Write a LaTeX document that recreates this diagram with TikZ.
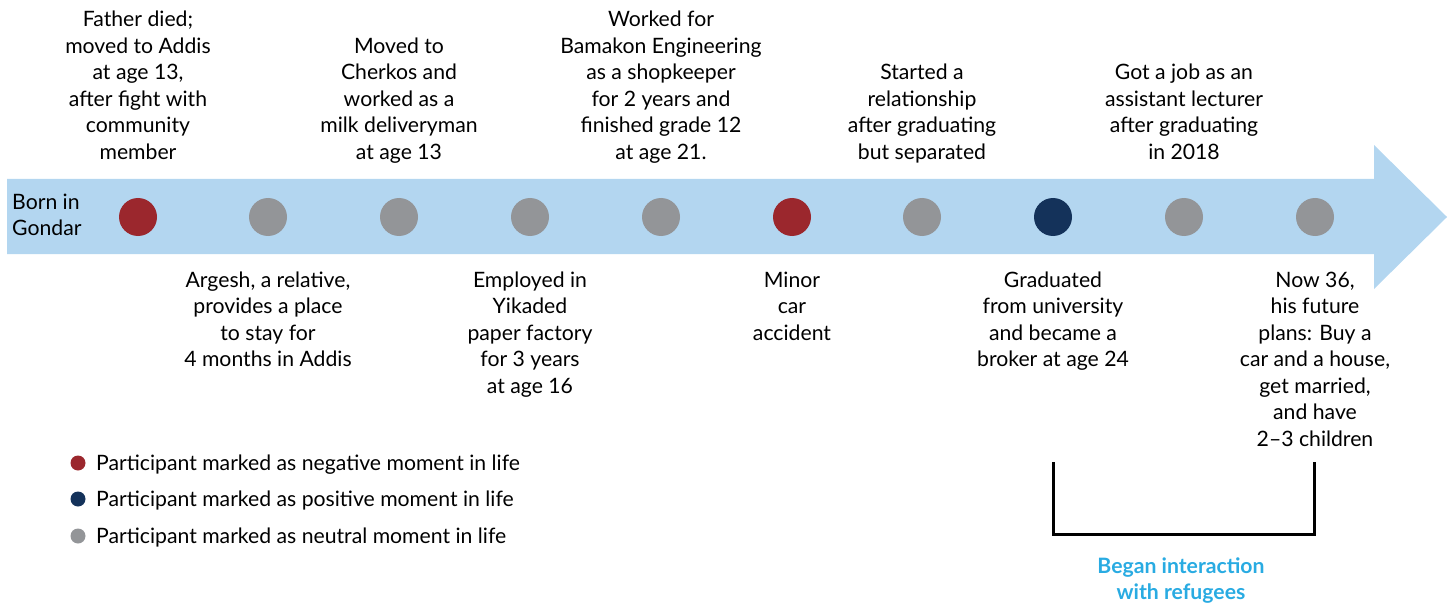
\documentclass[tikz,border=0pt]{standalone}
\usepackage{fontspec}
\setmainfont{Lato}
\definecolor{arrowblue}{HTML}{B3D6F0}
\definecolor{negred}{HTML}{9B272D}
\definecolor{neutgray}{HTML}{939598}
\definecolor{posnavy}{HTML}{14325A}
\definecolor{refblue}{HTML}{29ABE2}
\begin{document}
\begin{tikzpicture}[x=1pt,y=-1pt,
  font=\fontsize{21.2}{26.5}\selectfont,
  dot/.style={circle,inner sep=0pt,minimum size=38pt},
  ldot/.style={circle,inner sep=0pt,minimum size=15pt},
  toplab/.style={anchor=south,align=center,inner sep=0pt,text depth=0pt},
  botlab/.style={anchor=north,align=center,inner sep=0pt},
  legtext/.style={anchor=west,inner sep=0pt}]
\useasboundingbox (0,0) rectangle (1453,604);
\fill[arrowblue] (7,179) -- (1374,179) -- (1374,145) -- (1447,217) -- (1374,289) -- (1374,254) -- (7,254) -- cycle;
\node[anchor=north west,align=left,inner sep=0pt] (born) at (12,193.5) {Born in\\Gondar};
\node[dot,fill=negred] (d1) at (138,217) {};
\node[dot,fill=neutgray] (d2) at (268,217) {};
\node[dot,fill=neutgray] (d3) at (399,217) {};
\node[dot,fill=neutgray] (d4) at (530,217) {};
\node[dot,fill=neutgray] (d5) at (661,217) {};
\node[dot,fill=negred] (d6) at (792,217) {};
\node[dot,fill=neutgray] (d7) at (922,217) {};
\node[dot,fill=posnavy] (d8) at (1053,217) {};
\node[dot,fill=neutgray] (d9) at (1184,217) {};
\node[dot,fill=neutgray] (d10) at (1315,217) {};
\node[toplab] (t1) at (138,159.5) {Father died;\\moved to Addis\\at age 13,\\after fight with\\community\\member};
\node[toplab] (t3) at (399,159.5) {Moved to\\Cherkos and\\worked as a\\milk deliveryman\\at age 13};
\node[toplab] (t5) at (661,159.5) {Worked for\\Bamakon Engineering\\as a shopkeeper\\for 2 years and\\finished grade 12\\at age 21.};
\node[toplab] (t7) at (922,159.5) {Started a\\relationship\\after graduating\\but separated};
\node[toplab] (t9) at (1184,159.5) {Got a job as an\\assistant lecturer\\after graduating\\in 2018};
\node[botlab] (b2) at (268,271.5) {Argesh, a relative,\\provides a place\\to stay for\\4 months in Addis};
\node[botlab] (b4) at (530,271.5) {Employed in\\Yikaded\\paper factory\\for 3 years\\at age 16};
\node[botlab] (b6) at (792,271.5) {Minor\\car\\accident};
\node[botlab] (b8) at (1053,271.5) {Graduated\\from university\\and became a\\broker at age 24};
\node[botlab] (b10) at (1315,271.5) {Now 36,\\his future\\plans: Buy a\\car and a house,\\get married,\\and have\\2--3 children};
\node[ldot,fill=negred] (l1) at (78,463) {};
\node[ldot,fill=posnavy] (l2) at (78,499) {};
\node[ldot,fill=neutgray] (l3) at (78,536) {};
\node[legtext] (lt1) at (96,465) {Participant marked as negative moment in life};
\node[legtext] (lt2) at (96,501) {Participant marked as positive moment in life};
\node[legtext] (lt3) at (96,538) {Participant marked as neutral moment in life};
\coordinate (bl) at (1053,462);
\coordinate (br) at (1314,462);
\draw[line width=3pt] (bl) -- (bl |- 0,534) -- (br |- 0,534) -- (br);
\node[botlab,text=refblue,font=\fontsize{21.2}{26.5}\selectfont\bfseries] (ref) at (1181,557.5) {Began interaction\\with refugees};
\end{tikzpicture}
\end{document}
